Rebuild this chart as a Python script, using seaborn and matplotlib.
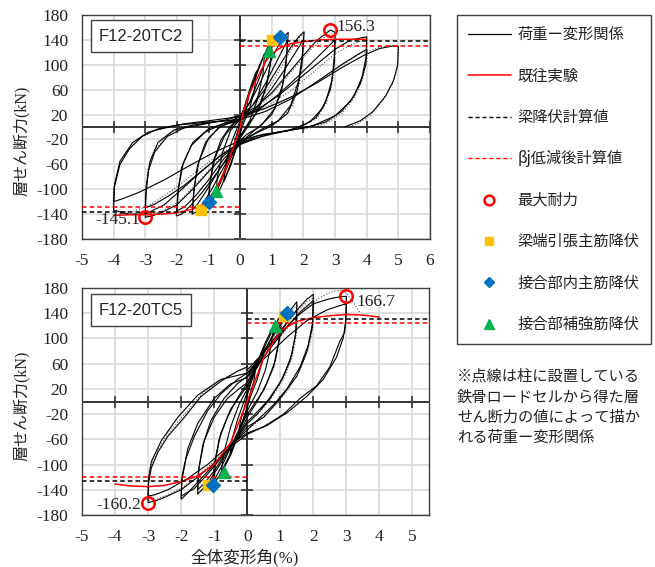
import matplotlib
matplotlib.use('Agg')
import matplotlib.pyplot as plt
import seaborn as sns
from matplotlib.lines import Line2D

# ---------------- data: F12-20TC2 (top) ----------------
XTICKS_TOP = [-5, -4, -3, -2, -1, 0, 1, 2, 3, 4, 5, 6]
XTICKS_BOT = [-5, -4, -3, -2, -1, 0, 1, 2, 3, 4, 5]
YTICKS = [-180, -140, -100, -60, -20, 20, 60, 100, 140, 180]

tc2_a025_x = [0, 0.1, 0.2, 0.27, 0.2, 0.1, 0, -0.1, -0.2, -0.27, -0.2, -0.1, 0]
tc2_a025_y = [5, 25, 42, 50, 30, 12, -5, -22, -38, -45, -28, -10, 5]
tc2_a05_x = [0, 0.15, 0.3, 0.45, 0.52, 0.45, 0.3, 0.1, 0, -0.15, -0.3, -0.45, -0.52, -0.45, -0.3, -0.1, 0]
tc2_a05_y = [10, 35, 60, 82, 90, 60, 30, 5, -10, -38, -62, -80, -88, -58, -28, -2, 10]
tc2_a075_x = [0, 0.2, 0.4, 0.6, 0.77, 0.72, 0.55, 0.3, 0, -0.2, -0.4, -0.6, -0.77, -0.72, -0.55, -0.3, 0]
tc2_a075_y = [12, 40, 70, 98, 118, 85, 45, 10, -15, -45, -72, -96, -112, -80, -40, -5, 12]
tc2_a1_x = [0, 0.2, 0.45, 0.7, 0.9, 1.02, 0.98, 0.85, 0.6, 0.3, 0, -0.25, -0.5, -0.75, -0.92, -1.02, -0.97, -0.85, -0.6, -0.3, 0]
tc2_a1_y = [15, 40, 75, 108, 132, 145, 110, 70, 30, 5, -18, -45, -75, -105, -122, -130, -95, -55, -20, 2, 15]
tc2_a1b_x = [0, 0.3, 0.6, 0.85, 1.0, 0.95, 0.8, 0.5, 0.2, 0, -0.3, -0.6, -0.85, -1.0, -0.95, -0.8, -0.5, -0.2, 0]
tc2_a1b_y = [12, 40, 78, 112, 135, 100, 60, 22, 0, -15, -45, -82, -110, -122, -88, -50, -15, 5, 12]
tc2_a15_x = [0, 0.3, 0.6, 0.9, 1.2, 1.4, 1.52, 1.47, 1.35, 1.1, 0.7, 0.3, 0, -0.3, -0.6, -0.9, -1.2, -1.4, -1.52, -1.47, -1.35, -1.1, -0.7, -0.3, 0]
tc2_a15_y = [18, 38, 68, 100, 130, 146, 152, 115, 70, 30, 5, -12, -25, -45, -72, -100, -125, -137, -140, -105, -62, -25, -2, 8, 18]
tc2_a15b_x = [0, 0.4, 0.8, 1.1, 1.35, 1.5, 1.45, 1.3, 1.0, 0.6, 0.2, 0, -0.4, -0.8, -1.1, -1.35, -1.5, -1.45, -1.3, -1.0, -0.6, -0.2, 0]
tc2_a15b_y = [12, 35, 70, 100, 125, 140, 100, 55, 20, 0, -12, -22, -48, -80, -105, -124, -132, -95, -55, -18, 2, 8, 12]
tc2_a2_x = [0, 0.4, 0.8, 1.2, 1.6, 1.85, 2.02, 1.97, 1.85, 1.6, 1.2, 0.7, 0.3, 0, -0.4, -0.8, -1.2, -1.6, -1.85, -2.02, -1.97, -1.85, -1.55, -1.1, -0.6, -0.2, 0]
tc2_a2_y = [18, 35, 62, 95, 128, 145, 153, 118, 75, 35, 10, -3, -15, -28, -50, -78, -105, -128, -140, -143, -105, -65, -30, -8, 4, 12, 18]
tc2_a2b_x = [0, 0.5, 1.0, 1.4, 1.75, 2.0, 1.95, 1.8, 1.5, 1.0, 0.5, 0, -0.5, -1.0, -1.4, -1.75, -2.0, -1.95, -1.8, -1.5, -1.0, -0.5, 0]
tc2_a2b_y = [10, 30, 62, 92, 120, 140, 100, 58, 22, 2, -10, -25, -50, -85, -110, -128, -135, -98, -58, -25, -3, 6, 10]
tc2_a3_x = [0, 0.5, 1.0, 1.5, 2.0, 2.4, 2.7, 2.85, 3.0, 2.98, 2.9, 2.7, 2.4, 1.9, 1.3, 0.7, 0, -0.5, -1.0, -1.5, -2.0, -2.5, -2.8, -3.0, -2.98, -2.9, -2.7, -2.3, -1.8, -1.0, -0.4, 0]
tc2_a3_y = [18, 32, 55, 85, 115, 138, 150, 156, 152, 115, 75, 40, 15, 0, -8, -15, -28, -45, -72, -100, -125, -138, -143, -145, -110, -70, -40, -15, -2, 6, 12, 18]
tc2_a3b_x = [0, 0.6, 1.2, 1.8, 2.3, 2.7, 3.0, 2.97, 2.85, 2.6, 2.2, 1.6, 0.9, 0, -0.6, -1.2, -1.8, -2.3, -2.7, -3.0, -2.97, -2.85, -2.6, -2.1, -1.5, -0.8, 0]
tc2_a3b_y = [12, 28, 52, 80, 105, 125, 140, 100, 60, 30, 8, -5, -12, -25, -45, -70, -95, -112, -124, -130, -95, -55, -25, -5, 3, 8, 12]
tc2_a4_x = [0, 0.6, 1.2, 1.8, 2.4, 3.0, 3.5, 4.0, 3.98, 3.85, 3.6, 3.2, 2.7, 2.0, 1.2, 0.5, 0, -0.6, -1.2, -1.8, -2.4, -3.0, -3.5, -4.0, -3.98, -3.8, -3.5, -3.1, -2.6, -1.8, -1.0, -0.4, 0]
tc2_a4_y = [18, 30, 50, 75, 100, 125, 140, 145, 112, 80, 50, 25, 8, -2, -8, -15, -28, -45, -70, -98, -125, -140, -140, -134, -97, -60, -35, -15, -3, 5, 10, 14, 18]
tc2_a4b_x = [0, 0.8, 1.6, 2.4, 3.2, 3.7, 4.0, 3.97, 3.8, 3.5, 3.0, 2.3, 1.5, 0.7, 0, -0.8, -1.6, -2.4, -3.2, -3.7, -4.0, -3.97, -3.8, -3.4, -2.9, -2.0, -1.0, 0]
tc2_a4b_y = [12, 25, 45, 72, 100, 116, 125, 100, 70, 42, 18, 2, -6, -12, -22, -40, -62, -85, -105, -115, -120, -92, -55, -25, -8, 3, 8, 12]
tc2_a5_x = [0, 0.8, 1.6, 2.4, 3.2, 3.9, 4.4, 4.8, 5.0, 4.98, 4.85, 4.6, 4.2, 3.8, 3.4, 3.3]
tc2_a5_y = [18, 30, 48, 70, 95, 115, 126, 130, 130, 100, 75, 50, 25, 10, 2, 0]

tc2_d1_x = [0, 0.45, 0.9, 1.3, 1.65, 1.9, 2.02, 1.98, 1.88, 1.65, 1.25, 0.75, 0.3, 0]
tc2_d1_y = [15, 33, 62, 96, 128, 145, 150, 112, 72, 34, 10, -4, -14, -26]
tc2_d2_x = [0.3, 0.8, 1.3, 1.8, 2.3, 2.6, 2.9, 3.02, 3.0, 2.92, 2.72, 2.42, 1.92, 1.3]
tc2_d2_y = [22, 42, 70, 100, 128, 142, 150, 148, 112, 72, 38, 14, 0, -8]
tc2_d3_x = [0.4, 1.0, 1.7, 2.4, 3.0, 3.5, 3.9, 4.02, 4.0, 3.87, 3.62, 3.22, 2.72, 2.0]
tc2_d3_y = [20, 38, 62, 92, 118, 132, 140, 140, 108, 76, 48, 22, 6, -4]
tc2_d4_x = [0.5, 1.3, 2.2, 3.0, 3.8, 4.4, 4.8, 5.0, 4.97, 4.8, 4.5, 4.1, 3.7, 3.4]
tc2_d4_y = [25, 40, 65, 92, 118, 128, 131, 130, 95, 68, 42, 18, 5, 0]
tc2_d5_x = [0, -0.5, -1.0, -1.5, -2.0, -2.5, -2.85, -3.02, -3.0, -2.92, -2.72, -2.32, -1.82, -1.0]
tc2_d5_y = [-26, -43, -70, -98, -122, -136, -141, -142, -108, -68, -38, -13, 0, 8]
tc2_d6_x = [0, -0.7, -1.4, -2.1, -2.8, -3.4, -3.8, -4.02, -4.0, -3.82, -3.52, -3.12, -2.62, -1.8, -1.0]
tc2_d6_y = [-25, -45, -72, -100, -124, -136, -136, -132, -100, -62, -36, -16, -4, 4, 9]

tc2_red_x = [-4, -3.5, -3, -2.5, -2, -1.5, -1.2, -1, -0.7, -0.4, -0.2, 0, 0.1, 0.3, 0.5, 0.8, 1, 1.3, 1.6, 2, 2.5, 3, 3.5, 4]
tc2_red_y = [-142, -141, -141, -140, -138, -132, -125, -115, -95, -60, -30, 0, 25, 55, 75, 105, 118, 128, 134, 137, 140, 141, 141, 141]

tc2_beam_yield = [138.7, -136.6]
tc2_bj_reduced = [130.2, -129.0]
tc2_max_x = [2.85, -3.0]
tc2_max_y = [156.3, -145.1]
tc2_sq_x = [1.0, -1.25]
tc2_sq_y = [140, -134]
tc2_dia_x = [1.25, -1.0]
tc2_dia_y = [145, -120]
tc2_tri_x = [0.9, -0.75]
tc2_tri_y = [122, -103]

# ---------------- data: F12-20TC5 (bottom) ----------------
tc5_a025_x = [0, 0.12, 0.25, 0.2, 0.1, 0, -0.12, -0.25, -0.2, -0.1, 0]
tc5_a025_y = [10, 30, 50, 32, 15, -8, -28, -45, -30, -12, 10]
tc5_a05_x = [0, 0.2, 0.4, 0.52, 0.45, 0.3, 0.1, 0, -0.2, -0.4, -0.52, -0.45, -0.3, -0.1, 0]
tc5_a05_y = [15, 45, 72, 88, 62, 35, 8, -10, -40, -68, -82, -58, -30, 0, 15]
tc5_a075_x = [0, 0.25, 0.5, 0.7, 0.8, 0.72, 0.55, 0.3, 0, -0.25, -0.5, -0.7, -0.78, -0.7, -0.5, -0.25, 0]
tc5_a075_y = [20, 55, 88, 110, 118, 88, 50, 15, -15, -50, -85, -105, -110, -80, -40, -5, 20]
tc5_a1_x = [0, 0.3, 0.6, 0.85, 1.05, 1.0, 0.85, 0.6, 0.3, 0, -0.3, -0.6, -0.85, -1.05, -1.0, -0.85, -0.6, -0.3, 0]
tc5_a1_y = [30, 62, 95, 122, 140, 105, 65, 30, 0, -25, -58, -92, -118, -133, -100, -60, -25, 5, 30]
tc5_a1b_x = [0, 0.35, 0.7, 1.0, 0.95, 0.8, 0.5, 0.2, 0, -0.35, -0.7, -1.0, -0.95, -0.8, -0.5, -0.2, 0]
tc5_a1b_y = [25, 60, 98, 130, 95, 55, 18, -5, -20, -55, -95, -125, -90, -50, -12, 10, 25]
tc5_a15_x = [0, 0.4, 0.8, 1.2, 1.5, 1.48, 1.35, 1.1, 0.7, 0.3, 0, -0.4, -0.8, -1.2, -1.5, -1.48, -1.35, -1.1, -0.7, -0.3, 0]
tc5_a15_y = [40, 72, 105, 138, 158, 112, 75, 40, 5, -20, -35, -65, -98, -130, -147, -112, -70, -30, 5, 28, 40]
tc5_a15b_x = [0, 0.5, 1.0, 1.3, 1.5, 1.46, 1.3, 1.0, 0.6, 0.2, 0, -0.5, -1.0, -1.3, -1.5, -1.46, -1.3, -1.0, -0.6, -0.2, 0]
tc5_a15b_y = [30, 70, 110, 132, 145, 105, 65, 30, 0, -22, -32, -70, -110, -130, -140, -105, -62, -25, 5, 22, 30]
tc5_a2_x = [0, 0.5, 1.0, 1.5, 1.8, 2.0, 1.98, 1.85, 1.6, 1.2, 0.8, 0.3, 0, -0.5, -1.0, -1.5, -1.8, -2.0, -1.98, -1.85, -1.6, -1.2, -0.8, -0.3, 0]
tc5_a2_y = [45, 78, 112, 145, 162, 170, 125, 90, 55, 20, -5, -30, -45, -70, -100, -128, -145, -155, -125, -90, -55, -15, 12, 35, 45]
tc5_a2b_x = [0, 0.6, 1.2, 1.6, 2.0, 1.97, 1.8, 1.5, 1.0, 0.5, 0, -0.6, -1.2, -1.6, -2.0, -1.97, -1.8, -1.5, -1.0, -0.5, 0]
tc5_a2b_y = [38, 78, 118, 142, 160, 118, 78, 40, 5, -25, -40, -78, -115, -138, -150, -118, -75, -35, 5, 28, 38]
tc5_a3_x = [0, 0.5, 1.0, 1.5, 2.0, 2.5, 2.8, 3.0, 2.99, 2.95, 2.8, 2.5, 2.1, 1.6, 1.1, 0.5, 0, -0.5, -1.0, -1.5, -2.0, -2.5, -2.8, -3.0, -2.99, -2.9, -2.7, -2.4, -1.9, -1.4, -0.8, -0.3, 0]
tc5_a3_y = [50, 78, 108, 135, 155, 163, 166, 166.7, 140, 110, 95, 55, 25, 5, -20, -40, -52, -72, -98, -120, -140, -152, -158, -160.2, -130, -105, -80, -55, -25, 8, 32, 48, 55]
tc5_a3b_x = [0, 0.6, 1.2, 1.8, 2.4, 2.8, 3.0, 2.98, 2.9, 2.7, 2.3, 1.8, 1.2, 0.6, 0, -0.6, -1.2, -1.8, -2.4, -2.8, -3.0, -2.98, -2.9, -2.6, -2.1, -1.5, -0.8, 0]
tc5_a3b_y = [45, 72, 102, 128, 145, 152, 155, 125, 100, 70, 35, 8, -18, -38, -50, -72, -100, -122, -140, -148, -150, -120, -95, -62, -25, 10, 35, 45]

tc5_d1_x = [0.2, 0.7, 1.2, 1.7, 2.2, 2.6, 2.9, 3.1, 3.3, 3.4]
tc5_d1_y = [55, 85, 115, 145, 165, 175, 177, 165, 150, 142]
tc5_d2_x = [0, 0.5, 1.0, 1.5, 1.8, 2.02, 2.0, 1.88, 1.62, 1.22, 0.82, 0.32, 0]
tc5_d2_y = [42, 75, 110, 142, 158, 165, 122, 88, 52, 18, -8, -32, -45]
tc5_d3_x = [0, -0.5, -1.0, -1.5, -2.0, -2.5, -2.8, -3.02, -3.0, -2.92, -2.72, -2.42, -1.92, -1.42, -0.82, -0.3, 0.2]
tc5_d3_y = [-48, -70, -95, -118, -138, -150, -155, -157, -128, -102, -78, -52, -22, 10, 34, 48, 55]
tc5_d4_x = [0, 0.4, 0.8, 1.2, 1.52, 1.5, 1.37, 1.12, 0.72, 0.32, 0]
tc5_d4_y = [36, 70, 102, 135, 154, 110, 72, 38, 4, -20, -36]

tc5_red_x = [-4, -3.5, -3, -2.5, -2, -1.5, -1, -0.5, 0, 0.5, 1, 1.5, 2, 2.5, 3, 3.5, 4]
tc5_red_y = [-131, -134, -135, -133, -127, -118, -100, -65, 0, 70, 112, 127, 133, 136, 138, 137, 134]

tc5_beam_yield = [130.3, -126.6]
tc5_bj_reduced = [124.0, -120.2]
tc5_max_x = [3.0, -3.0]
tc5_max_y = [166.7, -160.2]
tc5_sq_x = [1.1, -1.2]
tc5_sq_y = [136, -132]
tc5_dia_x = [1.2, -1.05]
tc5_dia_y = [141, -133]
tc5_tri_x = [0.85, -0.7]
tc5_tri_y = [119, -112]

LEGEND_LABELS = ['荷重ー変形関係', '既往実験', '梁降伏計算値', 'βj低減後計算値',
                 '最大耐力', '梁端引張主筋降伏', '接合部内主筋降伏', '接合部補強筋降伏']
NOTE = '※点線は柱に設置している\n鉄骨ロードセルから得た層\nせん断力の値によって描か\nれる荷重ー変形関係'

# ---------------- style ----------------
sns.set_theme(style='white')
plt.rcParams['font.family'] = ['Liberation Serif', 'Noto Sans CJK JP', 'DejaVu Sans']
plt.rcParams['axes.unicode_minus'] = False
CJK = ['Noto Sans CJK JP', 'DejaVu Sans']
MIX = ['Liberation Serif', 'Noto Sans CJK JP', 'DejaVu Sans']

RED = '#FF0000'
YEL = '#FFC000'
BLU = '#0070C0'
GRN = '#00B050'

fig = plt.figure(figsize=(6.55, 5.67), dpi=100)
W, H = 655, 567
ax1 = fig.add_axes([82 / W, 1 - 239 / H, 348 / W, 224 / H])
ax2 = fig.add_axes([82 / W, 1 - 515 / H, 347 / W, 227 / H])


def draw_panel(ax, solid, dotted, red_x, red_y, beam, bj, mx, my, sq, dia, tri,
               xlim, xticks, label, lab_pos, ann, ylab_pos):
    ax.set_xlim(*xlim)
    ax.set_ylim(-180, 180)
    ax.set_xticks(xticks)
    ax.set_yticks(YTICKS)
    ax.set_xticklabels([str(t) for t in xticks])
    ax.set_yticklabels([str(t) for t in YTICKS])
    ax.tick_params(length=0, labelsize=12.5, labelfontfamily='Liberation Serif',
                   labelcolor='#222222')
    ax.tick_params(axis='x', pad=10)
    ax.tick_params(axis='y', pad=10)
    for g in xticks:
        ax.axvline(g, color='#d9d9d9', lw=1.2, zorder=0)
    for g in YTICKS:
        ax.axhline(g, color='#d9d9d9', lw=1.2, zorder=0)
    for s in ax.spines.values():
        s.set_color('#404040')
        s.set_linewidth(1.0)
    ax.axhline(0, color='#333333', lw=1.4, zorder=1)
    ax.axvline(0, color='#333333', lw=1.4, zorder=1)
    ax.plot(xticks, [0] * len(xticks), ls='', marker='|', ms=8, mew=1.2, color='#333333', zorder=1)
    ax.plot([0] * len(YTICKS), YTICKS, ls='', marker='_', ms=8, mew=1.2, color='#333333', zorder=1)

    for xs, ys in dotted:
        sns.lineplot(x=xs, y=ys, sort=False, estimator=None, ax=ax, color='#555555',
                     lw=0.8, linestyle=':', zorder=2)
    for xs, ys in solid:
        sns.lineplot(x=xs, y=ys, sort=False, estimator=None, ax=ax, color='black',
                     lw=0.8, zorder=3)
    sns.lineplot(x=red_x, y=red_y, sort=False, estimator=None, ax=ax, color=RED, lw=1.1, zorder=4)

    ax.hlines(beam[0], 0, xlim[1], colors='black', linestyles=(0, (3, 2)), lw=1.1, zorder=4)
    ax.hlines(bj[0], 0, xlim[1], colors=RED, linestyles=(0, (3, 2)), lw=1.1, zorder=4)
    ax.hlines(beam[1], xlim[0], 0, colors='black', linestyles=(0, (3, 2)), lw=1.1, zorder=4)
    ax.hlines(bj[1], xlim[0], 0, colors=RED, linestyles=(0, (3, 2)), lw=1.1, zorder=4)

    ax.plot(sq[0], sq[1], ls='', marker='s', ms=7.5, color=YEL, zorder=5)
    ax.plot(dia[0], dia[1], ls='', marker='D', ms=7, color=BLU, zorder=6)
    ax.plot(tri[0], tri[1], ls='', marker='^', ms=9, color=GRN, zorder=5)
    ax.plot(mx, my, ls='', marker='o', ms=9, mfc='none', mec=RED, mew=1.8, zorder=7)

    (px, py, pha), (nx, ny, nha) = ann
    ax.text(px, py, f'{my[0]:.1f}', ha=pha, va='center', fontsize=12.5,
            family='Liberation Serif', color='#222222', zorder=8)
    ax.text(nx, ny, f'{my[1]:.1f}', ha=nha, va='center', fontsize=12.5,
            family='Liberation Serif', color='#222222', zorder=8)

    ax.text(lab_pos[0], lab_pos[1], label, transform=ax.transAxes, ha='center', va='center',
            fontsize=12, family='Liberation Sans', zorder=9,
            bbox=dict(boxstyle='square,pad=0.5', fc='white', ec='#404040', lw=1.0))
    ax.set_ylabel('層せん断力(kN)', family=MIX, fontsize=11.5, color='#222222')
    ax.yaxis.set_label_coords(*ylab_pos)


tc2_solid = [(tc2_a025_x, tc2_a025_y), (tc2_a05_x, tc2_a05_y), (tc2_a075_x, tc2_a075_y),
             (tc2_a1_x, tc2_a1_y), (tc2_a1b_x, tc2_a1b_y), (tc2_a15_x, tc2_a15_y),
             (tc2_a15b_x, tc2_a15b_y), (tc2_a2_x, tc2_a2_y), (tc2_a2b_x, tc2_a2b_y),
             (tc2_a3_x, tc2_a3_y), (tc2_a3b_x, tc2_a3b_y), (tc2_a4_x, tc2_a4_y),
             (tc2_a4b_x, tc2_a4b_y), (tc2_a5_x, tc2_a5_y)]
tc2_dotted = [(tc2_d1_x, tc2_d1_y), (tc2_d2_x, tc2_d2_y), (tc2_d3_x, tc2_d3_y),
              (tc2_d4_x, tc2_d4_y), (tc2_d5_x, tc2_d5_y), (tc2_d6_x, tc2_d6_y)]
tc5_solid = [(tc5_a025_x, tc5_a025_y), (tc5_a05_x, tc5_a05_y), (tc5_a075_x, tc5_a075_y),
             (tc5_a1_x, tc5_a1_y), (tc5_a1b_x, tc5_a1b_y), (tc5_a15_x, tc5_a15_y),
             (tc5_a15b_x, tc5_a15b_y), (tc5_a2_x, tc5_a2_y), (tc5_a2b_x, tc5_a2b_y),
             (tc5_a3_x, tc5_a3_y), (tc5_a3b_x, tc5_a3b_y)]
tc5_dotted = [(tc5_d1_x, tc5_d1_y), (tc5_d2_x, tc5_d2_y), (tc5_d3_x, tc5_d3_y),
              (tc5_d4_x, tc5_d4_y)]

draw_panel(ax1, tc2_solid, tc2_dotted, tc2_red_x, tc2_red_y, tc2_beam_yield, tc2_bj_reduced,
           tc2_max_x, tc2_max_y, (tc2_sq_x, tc2_sq_y), (tc2_dia_x, tc2_dia_y),
           (tc2_tri_x, tc2_tri_y), (-5, 6), XTICKS_TOP, 'F12-20TC2', (0.17, 0.905),
           ((3.05, 161, 'left'), (-3.15, -150, 'right')), (-0.15, 0.44))
draw_panel(ax2, tc5_solid, tc5_dotted, tc5_red_x, tc5_red_y, tc5_beam_yield, tc5_bj_reduced,
           tc5_max_x, tc5_max_y, (tc5_sq_x, tc5_sq_y), (tc5_dia_x, tc5_dia_y),
           (tc5_tri_x, tc5_tri_y), (-5, 5.5), XTICKS_BOT, 'F12-20TC5', (0.17, 0.903),
           ((3.3, 158, 'left'), (-3.2, -164, 'right')), (-0.15, 0.48))
ax2.set_xlabel('全体変形角(%)', family=MIX, fontsize=12, color='#222222')
ax2.xaxis.set_label_coords(0.47, -0.148)

handles = [
    Line2D([], [], color='black', lw=0.9),
    Line2D([], [], color=RED, lw=1.1),
    Line2D([], [], color='black', lw=1.0, ls=(0, (3, 2))),
    Line2D([], [], color=RED, lw=1.0, ls=(0, (3, 2))),
    Line2D([], [], ls='', marker='o', ms=7, mfc='none', mec=RED, mew=1.8),
    Line2D([], [], ls='', marker='s', ms=6, color=YEL),
    Line2D([], [], ls='', marker='D', ms=5.5, color=BLU),
    Line2D([], [], ls='', marker='^', ms=7, color=GRN),
]
leg = fig.legend(handles, LEGEND_LABELS, loc='upper left', bbox_to_anchor=(457 / W, 1 - 15 / H),
                 frameon=True, fancybox=False, edgecolor='#404040', framealpha=1,
                 prop={'family': CJK, 'size': 11}, handlelength=2.8, handletextpad=0.45,
                 labelspacing=1.6, borderpad=0.72, numpoints=1, borderaxespad=0,
                 labelcolor='#222222')
leg.get_frame().set_linewidth(1.0)

fig.text(457 / W, 1 - 368 / H, NOTE, ha='left', va='top', fontsize=11, family=CJK,
         linespacing=1.25, color='#222222')

fig.savefig('out.png', dpi=100)
